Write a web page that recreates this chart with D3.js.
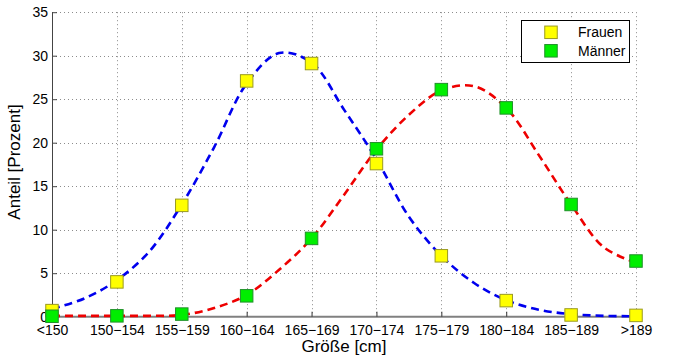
<!DOCTYPE html>
<html>
<head>
<meta charset="utf-8">
<script src="https://cdn.jsdelivr.net/npm/d3@7"></script>
<style>
  body { margin: 0; background: #fff; }
  svg { display: block; font-family: "Liberation Sans", Arial, Helvetica, sans-serif; }
</style>
</head>
<body>
<svg id="chart" width="680" height="360"></svg>
<script>
// ---- data ----
const categories = ["<150", "150\u2212154", "155\u2212159", "160\u2212164", "165\u2212169",
                    "170\u2212174", "175\u2212179", "180\u2212184", "185\u2212189", ">189"];
const frauen = [0.7, 4.0, 12.8, 27.1, 29.1, 17.6, 7.0, 1.85, 0.2, 0.15];
const maenner = [0.05, 0.1, 0.3, 2.4, 9.0, 19.3, 26.1, 24.0, 12.9, 6.4];
// fitted curves, read at half-category steps (position = category index)
const fitPos = [0, 0.5, 1, 1.5, 2, 2.5, 3, 3.5, 4, 4.5, 5, 5.5, 6, 6.5, 7, 7.5, 8, 8.5, 9];
const fitFrauen = [0.9, 2.1, 4.2, 7.5, 12.9, 19.5, 26.8, 30.3, 29.2, 23.8, 18.1, 11.5, 7.0, 3.9, 1.9, 0.8, 0.3, 0.1, 0.05];
const fitMaenner = [0.1, 0.1, 0.1, 0.1, 0.2, 1.0, 2.5, 5.4, 9.0, 14.0, 19.2, 23.2, 26.0, 26.5, 24.0, 18.6, 12.9, 8.0, 6.2];
const yTicks = [0, 5, 10, 15, 20, 25, 30, 35];
const legendLabels = ["Frauen", "M\u00e4nner"];
const xLabel = "Gr\u00f6\u00dfe [cm]";
const yLabel = "Anteil [Prozent]";

(function () {
// ---- layout ----
const svg = d3.select("#chart");
const pLeft = 52, pRight = 636, pTop = 12.2, pBottom = 316.7;

const x = d3.scaleLinear().domain([0, categories.length - 1]).range([pLeft, pRight]);
const y = d3.scaleLinear().domain([0, 35]).range([pBottom, pTop]);

// grid
const grid = svg.append("g").attr("stroke", "#8c8c8c").attr("stroke-width", 1)
  .attr("stroke-dasharray", "1,3");
grid.selectAll("line.h").data(yTicks.filter(d => d > 0)).join("line")
  .attr("x1", pLeft).attr("x2", pRight)
  .attr("y1", d => Math.round(y(d)) + 0.5).attr("y2", d => Math.round(y(d)) + 0.5);
grid.selectAll("line.v").data(d3.range(1, categories.length)).join("line")
  .attr("x1", d => Math.round(x(d)) + 0.5).attr("x2", d => Math.round(x(d)) + 0.5)
  .attr("y1", pTop).attr("y2", pBottom);

// y axis
const yAxis = d3.axisLeft(y).tickValues(yTicks).tickSize(-5).tickPadding(4);
const gy = svg.append("g").attr("transform", `translate(${pLeft},0)`).call(yAxis);
gy.select(".domain").attr("stroke", "#444").attr("d", `M0.5,${pTop}V${pBottom}`);
gy.selectAll(".tick line").attr("stroke", "#444");
gy.selectAll(".tick text").attr("font-size", 14).attr("font-family", null).attr("fill", "#000");

// x axis
const xAxis = d3.axisBottom(x).tickValues(d3.range(categories.length))
  .tickFormat(i => categories[i]).tickSize(-5).tickPadding(8);
const gx = svg.append("g").attr("transform", `translate(0,${pBottom})`).call(xAxis);
gx.select(".domain").attr("stroke", "#808080").attr("stroke-width", 2)
  .attr("d", `M${pLeft},0H${pRight}`);
gx.selectAll(".tick line").attr("stroke", "#333");
gx.selectAll(".tick text").attr("font-size", 14).attr("font-family", null).attr("fill", "#000");

// axis titles
svg.append("text").attr("x", (pLeft + pRight) / 2).attr("y", 351.5)
  .attr("text-anchor", "middle").attr("font-size", 17).text(xLabel);
svg.append("text").attr("transform", `translate(20,162) rotate(-90)`)
  .attr("text-anchor", "middle").attr("font-size", 17).text(yLabel);

// fit curves
const line = d3.line().x(d => x(d[0])).y(d => y(d[1])).curve(d3.curveCatmullRom);
svg.append("path").datum(fitPos.map((p, i) => [p, fitFrauen[i]]))
  .attr("d", line).attr("fill", "none").attr("stroke", "#0000ee")
  .attr("stroke-width", 2.6).attr("stroke-dasharray", "8,5");
svg.append("path").datum(fitPos.map((p, i) => [p, fitMaenner[i]]))
  .attr("d", line).attr("fill", "none").attr("stroke", "#ee0000")
  .attr("stroke-width", 2.6).attr("stroke-dasharray", "8,5");

// markers
const ms = 12.5;
function markers(data, fill, stroke) {
  svg.append("g").selectAll("rect").data(data).join("rect")
    .attr("x", (d, i) => x(i) - ms / 2).attr("y", d => y(d) - ms / 2)
    .attr("width", ms).attr("height", ms)
    .attr("fill", fill).attr("stroke", stroke).attr("stroke-width", 1);
}
markers(frauen, "#ffff00", "#9a9a20");
markers(maenner, "#00ee00", "#20902a");

// legend
const lg = svg.append("g");
lg.append("rect").attr("x", 521.5).attr("y", 20.5).attr("width", 108).attr("height", 42)
  .attr("fill", "#fff").attr("stroke", "#000").attr("stroke-width", 1);
const legFill = [["#ffff00", "#9a9a20"], ["#00ee00", "#20902a"]];
legendLabels.forEach((lab, i) => {
  const cy = 32.3 + i * 18.5;
  lg.append("rect").attr("x", 551 - ms / 2).attr("y", cy - ms / 2)
    .attr("width", ms).attr("height", ms)
    .attr("fill", legFill[i][0]).attr("stroke", legFill[i][1]);
  lg.append("text").attr("x", 578).attr("y", cy + 5).attr("font-size", 14).text(lab);
});
})();
</script>
</body>
</html>
